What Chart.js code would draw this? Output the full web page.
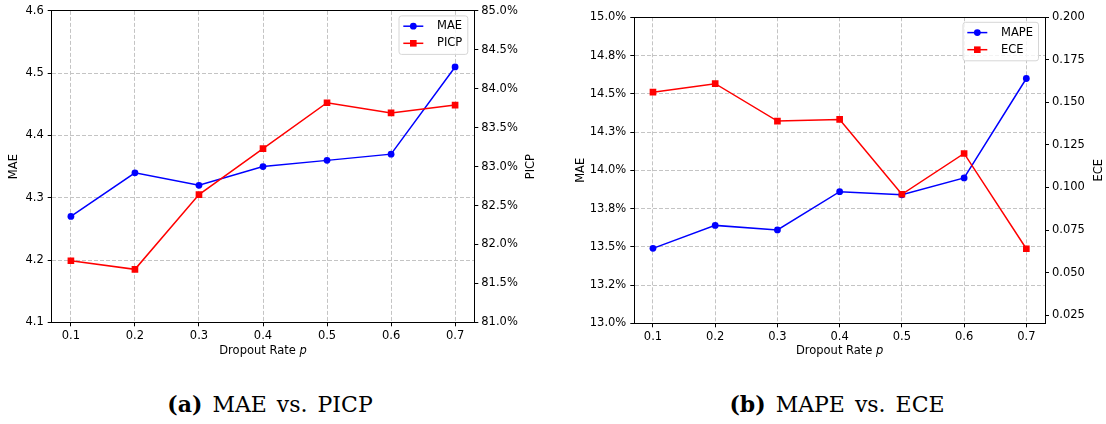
<!DOCTYPE html>
<html>
<head>
<meta charset="utf-8">
<script src="https://cdn.jsdelivr.net/npm/chart.js@4.4.0/dist/chart.umd.min.js"></script>
<style>
  body { margin: 0; background: #fff; }
  #page { position: relative; width: 1106px; height: 424px; overflow: hidden; background: #fff; }
  canvas { position: absolute; top: 0; }
  .caption { position: absolute; top: 393px; width: 400px; text-align: center;
             font: 22px/22px "DejaVu Serif", serif; word-spacing: 3px; color: #000; }
</style>
</head>
<body>
<div id="page">
  <canvas id="chartA" width="556" height="370" style="left:0;width:556px;height:370px"></canvas>
  <canvas id="chartB" width="550" height="370" style="left:556px;width:550px;height:370px"></canvas>
  <div class="caption" style="left:70px"><b>(a)</b> MAE vs. PICP</div>
  <div class="caption" style="left:637px"><b>(b)</b> MAPE vs. ECE</div>
</div>
<script>
// data
const dropoutRates = [0.1, 0.2, 0.3, 0.4, 0.5, 0.6, 0.7];
const maeValues  = [4.27, 4.34, 4.32, 4.35, 4.36, 4.37, 4.51];
const picpValues = [81.79, 81.68, 82.64, 83.23, 83.82, 83.69, 83.79];
const mapeValues = [13.49, 13.64, 13.61, 13.86, 13.84, 13.95, 14.60];
const eceValues  = [0.156, 0.161, 0.139, 0.140, 0.096, 0.120, 0.064];

// ticks
const maeTicks  = [4.1, 4.2, 4.3, 4.4, 4.5, 4.6];
const picpTicks = [81.0, 81.5, 82.0, 82.5, 83.0, 83.5, 84.0, 84.5, 85.0];
const mapeTicks = [13.0, 13.25, 13.5, 13.75, 14.0, 14.25, 14.5, 14.75, 15.0];
const mapeTickLabels = ['13.0%', '13.2%', '13.5%', '13.8%', '14.0%', '14.3%', '14.5%', '14.8%', '15.0%'];
const eceTicks  = [0.025, 0.05, 0.075, 0.1, 0.125, 0.15, 0.175, 0.2];

const FONT = 'DejaVu Sans';
const FSIZE = 11.5;
Chart.defaults.font.family = FONT;
Chart.defaults.font.size = FSIZE;
Chart.defaults.color = '#000';

// matplotlib-like legend box in the upper right of the plot
const boxLegend = {
    id: 'boxLegend',
    afterDatasetsDraw(chart) {
        const { ctx, chartArea: a } = chart;
        const sets = chart.data.datasets;
        ctx.save();
        ctx.font = FSIZE + 'px "' + FONT + '"';
        const textW = Math.max(...sets.map(d => ctx.measureText(d.label).width));
        const w = 38 + textW + 5.5, h = 38.5, rowH = 17.1;
        const x0 = a.right - 6.5 - w, y0 = a.top + 5;
        ctx.beginPath();
        ctx.roundRect(x0, y0, w, h, 2.5);
        ctx.fillStyle = 'rgba(255,255,255,0.8)';
        ctx.fill();
        ctx.strokeStyle = '#d6d6d6';
        ctx.lineWidth = 1;
        ctx.stroke();
        sets.forEach((d, i) => {
            const y = y0 + 10.3 + i * rowH;
            ctx.strokeStyle = d.borderColor;
            ctx.lineWidth = 1.5;
            ctx.beginPath();
            ctx.moveTo(x0 + 4.3, y);
            ctx.lineTo(x0 + 24.3, y);
            ctx.stroke();
            ctx.fillStyle = d.borderColor;
            if (d.pointStyle === 'rect') {
                ctx.fillRect(x0 + 14.3 - 3.3, y - 3.3, 6.6, 6.6);
            } else {
                ctx.beginPath();
                ctx.arc(x0 + 14.3, y, 3.4, 0, Math.PI * 2);
                ctx.fill();
            }
            ctx.fillStyle = '#000';
            ctx.textAlign = 'left';
            ctx.textBaseline = 'middle';
            ctx.fillText(d.label, x0 + 38, y);
        });
        ctx.restore();
    }
};

// top spine, right-axis title (reads bottom to top) and x title with italic p
const framePlugin = {
    id: 'frame',
    afterDraw(chart, args, opts) {
        const { ctx, chartArea: a } = chart;
        ctx.save();
        ctx.strokeStyle = '#000';
        ctx.lineWidth = 1;
        const yTop = Math.round(a.top - 0.5) + 0.5;
        ctx.beginPath();
        ctx.moveTo(Math.round(a.left - 0.5), yTop);
        ctx.lineTo(Math.round(a.right - 0.5) + 1, yTop);
        ctx.stroke();

        ctx.fillStyle = '#000';
        ctx.textBaseline = 'middle';

        const y2 = chart.scales.y2;
        ctx.font = FSIZE + 'px "' + FONT + '"';
        ctx.textAlign = 'center';
        ctx.save();
        ctx.translate(y2.right - 6.9, (a.top + a.bottom) / 2);
        ctx.rotate(-Math.PI / 2);
        ctx.fillText(opts.rightTitle, 0, 0);
        ctx.restore();

        const xs = chart.scales.x;
        const cy = xs.bottom - 6.9;
        const plain = 'Dropout Rate ';
        const w1 = ctx.measureText(plain).width;
        ctx.font = 'italic ' + FSIZE + 'px "' + FONT + '"';
        const w2 = ctx.measureText('p').width;
        const x = (a.left + a.right) / 2 - (w1 + w2) / 2;
        ctx.textAlign = 'left';
        ctx.font = FSIZE + 'px "' + FONT + '"';
        ctx.fillText(plain, x, cy);
        ctx.font = 'italic ' + FSIZE + 'px "' + FONT + '"';
        ctx.fillText('p', x + w1, cy);
        ctx.restore();
    }
};

function series(values, label, color, style, yAxisID, order) {
    return {
        label: label,
        data: dropoutRates.map((x, i) => ({ x: x, y: values[i] })),
        yAxisID: yAxisID,
        borderColor: color,
        backgroundColor: color,
        borderWidth: 1.5,
        pointStyle: style,
        pointRadius: style === 'rect' ? 4.7 : 3.4,
        pointHoverRadius: style === 'rect' ? 4.7 : 3.4,
        pointBorderWidth: 0,
        tension: 0,
        fill: false,
        order: order
    };
}

function yAxis(pos, min, max, ticks, labelFn, title, width, grid) {
    return {
        type: 'linear',
        position: pos,
        min: min,
        max: max,
        afterBuildTicks: s => { s.ticks = ticks.map(v => ({ value: v })); },
        afterFit: s => { s.width = width; },
        ticks: { callback: (v, i) => labelFn(i), padding: pos === 'left' ? 4 : 3, autoSkip: false },
        grid: {
            display: true,
            drawOnChartArea: grid,
            color: '#c4c4c4',
            tickColor: '#000',
            tickLength: 4,
            tickWidth: 1,
            tickBorderDash: []
        },
        border: { display: true, color: '#000', width: 1, dash: [4, 2] },
        title: { display: pos === 'left', text: title, padding: { top: 0, bottom: 0 }, color: '#000' }
    };
}

function makeChart(id, cfg) {
    return new Chart(document.getElementById(id), {
        type: 'line',
        data: {
            datasets: [
                series(cfg.leftValues, cfg.leftLabel, '#0000ff', 'circle', 'y', 1),
                series(cfg.rightValues, cfg.rightLabel, '#ff0000', 'rect', 'y2', 0)
            ]
        },
        options: {
            responsive: false,
            animation: false,
            devicePixelRatio: 1,
            layout: { padding: cfg.padding },
            plugins: {
                legend: { display: false },
                tooltip: { enabled: false },
                frame: { rightTitle: cfg.rightTitle }
            },
            scales: {
                x: {
                    type: 'linear',
                    min: 0.07,
                    max: 0.73,
                    afterBuildTicks: s => { s.ticks = dropoutRates.map(v => ({ value: v })); },
                    afterFit: s => { s.height = cfg.xHeight; },
                    ticks: { callback: v => v.toFixed(1), padding: 3, autoSkip: false, maxRotation: 0 },
                    grid: {
                        color: '#c4c4c4',
                        tickColor: '#000',
                        tickLength: 4,
                        tickWidth: 1,
                        tickBorderDash: []
                    },
                    border: { color: '#000', width: 1, dash: [4, 2] },
                    title: { display: false }
                },
                y: yAxis('left', cfg.leftMin, cfg.leftMax, cfg.leftTicks, cfg.leftFmt, cfg.leftTitle, cfg.leftWidth, true),
                y2: yAxis('right', cfg.rightMin, cfg.rightMax, cfg.rightTicks, cfg.rightFmt, cfg.rightTitle, cfg.rightWidth, false)
            }
        },
        plugins: [boxLegend, framePlugin]
    });
}

makeChart('chartA', {
    leftValues: maeValues, leftLabel: 'MAE',
    rightValues: picpValues, rightLabel: 'PICP',
    leftMin: 4.1, leftMax: 4.6, leftTicks: maeTicks,
    leftFmt: i => maeTicks[i].toFixed(1), leftTitle: 'MAE',
    rightMin: 81, rightMax: 85, rightTicks: picpTicks,
    rightFmt: i => picpTicks[i].toFixed(1) + '%', rightTitle: 'PICP',
    padding: { left: 7.4, right: 17.6, top: 8.3, bottom: 11.7 },
    leftWidth: 44.3, rightWidth: 64.1, xHeight: 36
});

makeChart('chartB', {
    leftValues: mapeValues, leftLabel: 'MAPE',
    rightValues: eceValues, rightLabel: 'ECE',
    leftMin: 13, leftMax: 15, leftTicks: mapeTicks,
    leftFmt: i => mapeTickLabels[i], leftTitle: 'MAE',
    rightMin: 0.0202, rightMax: 0.2, rightTicks: eceTicks,
    rightFmt: i => eceTicks[i].toFixed(3), rightTitle: 'ECE',
    padding: { left: 18, right: 0.4, top: 17.3, bottom: 11.7 },
    leftWidth: 60.3, rightWidth: 60.6, xHeight: 35
});
</script>
</body>
</html>
